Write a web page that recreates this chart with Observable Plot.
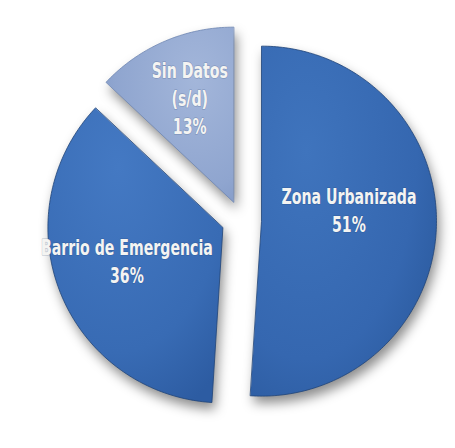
<!DOCTYPE html>
<html><head><meta charset="utf-8">
<script src="https://cdn.jsdelivr.net/npm/d3@7"></script>
<script src="https://cdn.jsdelivr.net/npm/@observablehq/plot@0.6"></script>
<style>html,body{margin:0;padding:0;background:#fff;overflow:hidden}</style>
</head><body><div id="chart"></div>
<script>
// ---- data ----
const categories = ["Zona Urbanizada", "Barrio de Emergencia", "Sin Datos (s/d)"];
const shares = [51, 36, 13];
const labelLines = ["Zona Urbanizada\n51%", "Barrio de Emergencia\n36%", "Sin Datos\n(s/d)\n13%"];

// ---- layout (pixels) ----
const W = 455, H = 448;
const layout = {cx: 241, cy: 220, R: 175, explode: 20, labelR: [0.5, 0.59, 0.63], labelDy: [-15, -6, -4], textScaleX: 0.69};
const fills = ["url(#gBlue)", "url(#gBlue2)", "url(#gLight)"];

const arcs = d3.pie().sort(null).value(d => d)(shares);
const ex = layout.explode / layout.R;
const slices = [];
const labelData = [];
arcs.forEach((a, i) => {
  const mid = (a.startAngle + a.endAngle) / 2;
  const ox = ex * Math.sin(mid), oy = ex * Math.cos(mid);
  slices.push({name: categories[i], x: ox, y: oy});
  const n = Math.max(8, Math.ceil((a.endAngle - a.startAngle) / (Math.PI / 180)));
  for (let k = 0; k <= n; k++) {
    const t = a.startAngle + (a.endAngle - a.startAngle) * k / n;
    slices.push({name: categories[i], x: ox + Math.sin(t), y: oy + Math.cos(t)});
  }
  const lr = layout.labelR[i];
  labelData.push({name: categories[i], text: labelLines[i],
    x: ox + lr * Math.sin(mid), y: oy + lr * Math.cos(mid) - layout.labelDy[i] / layout.R});
});

const marks = [];
categories.forEach((c, i) => {
  marks.push(Plot.line(slices.filter(d => d.name === c), {
    x: "x", y: "y", curve: "linear-closed", fill: "#000", fillOpacity: 0.45,
    stroke: "none", dx: 3, dy: 7, ariaDescription: "shadow"
  }));
});
categories.forEach((c, i) => {
  marks.push(Plot.line(slices.filter(d => d.name === c), {
    x: "x", y: "y", curve: "linear-closed", fill: fills[i],
    stroke: i === 2 ? "#6f86b3" : "#1f4479", strokeWidth: 0.8
  }));
});
marks.push(Plot.text(labelData, {
  x: "x", y: "y", text: "text", fill: "#f4f4f2",
  fontSize: 20.5, fontWeight: "bold", lineHeight: 1.38, lineAnchor: "middle",
  fontFamily: "'DejaVu Sans', sans-serif",
  stroke: "#1b3560", strokeOpacity: 0.22, strokeWidth: 1.5,
  ariaDescription: "labels"
}));

const plot = Plot.plot({
  width: W, height: H, margin: 0,
  x: {domain: [-layout.cx / layout.R, (W - layout.cx) / layout.R], axis: null},
  y: {domain: [-(H - layout.cy) / layout.R, layout.cy / layout.R], axis: null},
  style: {background: "#fff", overflow: "visible"},
  marks
});

const ns = "http://www.w3.org/2000/svg";
const defs = document.createElementNS(ns, "defs");
defs.innerHTML = `
  <radialGradient id="gBlue" cx="0.3" cy="0.3" r="0.85">
    <stop offset="0" stop-color="#3f74bd"/>
    <stop offset="0.7" stop-color="#3567b0"/>
    <stop offset="1" stop-color="#2b5a9e"/>
  </radialGradient>
  <radialGradient id="gBlue2" cx="0.4" cy="0.2" r="0.9">
    <stop offset="0" stop-color="#4479c3"/>
    <stop offset="0.7" stop-color="#386bb4"/>
    <stop offset="1" stop-color="#2d5ca2"/>
  </radialGradient>
  <radialGradient id="gLight" cx="0.7" cy="0.3" r="0.9">
    <stop offset="0" stop-color="#a3b6da"/>
    <stop offset="0.7" stop-color="#8fa5cf"/>
    <stop offset="1" stop-color="#7d95c3"/>
  </radialGradient>
  <filter id="blur" x="-30%" y="-30%" width="160%" height="160%">
    <feGaussianBlur stdDeviation="6"/>
  </filter>`;
const svg = plot.tagName === "svg" ? plot : plot.querySelector("svg");
svg.insertBefore(defs, svg.firstChild);
svg.querySelectorAll('[aria-description="shadow"]').forEach(g => g.setAttribute("filter", "url(#blur)"));
svg.querySelectorAll('[aria-description="labels"] text').forEach(t => {
  const tr = t.getAttribute("transform") || "";
  t.setAttribute("transform", tr + ` scale(${layout.textScaleX},1)`);
});
document.getElementById("chart").appendChild(plot);
</script>
</body></html>
